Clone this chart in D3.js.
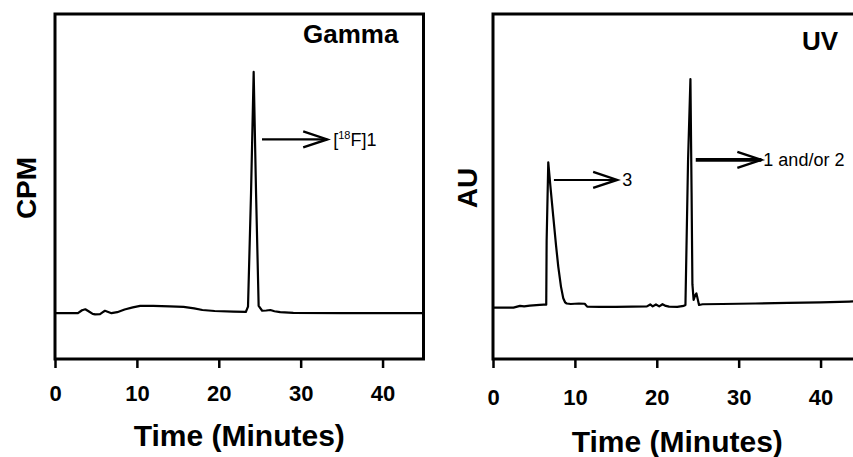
<!DOCTYPE html>
<html>
<head>
<meta charset="utf-8">
<script src="https://cdn.jsdelivr.net/npm/d3@7"></script>
<style>
  html, body { margin: 0; padding: 0; background: #fff; overflow: hidden; }
  svg { display: block; }
  text { font-family: "Liberation Sans", Arial, sans-serif; fill: #000; }
</style>
</head>
<body>
<svg id="chart" width="853" height="457"></svg>
<script>
// ---- data ----
const xTicks = [0, 10, 20, 30, 40];

const gammaTime = [0, 2.8, 3.3, 3.7, 4.1, 4.6, 4.9, 5.5, 5.8, 6.1, 6.5, 6.9, 7.6, 8.5, 9.5, 10.4, 12, 14, 15.7, 17, 18, 19.5, 21.8, 23.3, 23.57, 23.94, 24.26, 24.55, 24.87, 25.3, 25.8, 26.3, 26.8, 27.5, 29.1, 35, 45];
const gammaCPM  = [0, 0, 0.012, 0.016, 0.008, -0.003, -0.005, -0.004, 0.003, 0.01, 0.005, 0, 0.004, 0.015, 0.024, 0.03, 0.03, 0.028, 0.026, 0.02, 0.013, 0.009, 0.006, 0.005, 0.027, 0.5, 1.0, 0.5, 0.03, 0.01, 0.011, 0.013, 0.008, 0.004, 0.001, 0, 0];

const uvTime = [0, 2.5, 3.3, 3.8, 4.5, 5.3, 5.7, 6.2, 6.5, 6.55, 6.75, 7.0, 7.36, 7.7, 7.97, 8.3, 8.58, 8.8, 9.0, 9.5, 10.5, 11.2, 11.5, 13, 15, 17, 18.8, 19.2, 19.5, 19.9, 20.3, 20.7, 21.1, 21.5, 22.5, 23.3, 23.5, 23.82, 24.11, 24.25, 24.35, 24.5, 24.7, 24.84, 25.16, 25.6, 28, 32, 36, 40, 43.5, 45];
const uvAU   = [0.023, 0.023, 0.03, 0.028, 0.031, 0.033, 0.034, 0.035, 0.035, 0.3, 0.625, 0.53, 0.40, 0.28, 0.193, 0.11, 0.062, 0.045, 0.040, 0.038, 0.040, 0.039, 0.027, 0.026, 0.026, 0.027, 0.028, 0.036, 0.028, 0.036, 0.028, 0.037, 0.03, 0.027, 0.026, 0.03, 0.034, 0.635, 0.97, 0.5, 0.12, 0.055, 0.075, 0.082, 0.034, 0.037, 0.038, 0.040, 0.043, 0.045, 0.048, 0.05];

// annotations: [arrow start (min), arrow end (min), level, label]
const gammaNotes = [[25.28, 33.24, 0.72]];
const uvNotes = [[7.44, 15.16, 0.552, "3"], [24.76, 32.77, 0.635, "1 and/or 2"]];

// ---- drawing ----
const svg = d3.select("#chart");
const yDomain = [-0.19, 1.24];

function panel(opts) {
  const x = d3.scaleLinear().domain([0, 45]).range([opts.left, opts.left + 368.5]);
  const y = d3.scaleLinear().domain(yDomain).range([359, 14]);
  const g = svg.append("g");

  // frame
  g.append("rect")
    .attr("x", x(0)).attr("y", y(yDomain[1]))
    .attr("width", x(45) - x(0)).attr("height", y(yDomain[0]) - y(yDomain[1]))
    .attr("fill", "none").attr("stroke", "#000").attr("stroke-width", 3);

  // axis
  const ax = g.append("g").attr("transform", `translate(0,${y(yDomain[0])})`)
    .call(d3.axisBottom(x).tickValues(xTicks).tickSize(9).tickSizeOuter(0).tickPadding(opts.pad));
  ax.select(".domain").remove();
  ax.selectAll(".tick line").attr("stroke", "#000").attr("stroke-width", 2.5);
  ax.selectAll(".tick text")
    .style("font-family", '"Liberation Sans", Arial, sans-serif')
    .style("font-weight", "bold").style("font-size", "22px").attr("fill", "#000");

  // trace
  const pts = opts.t.map((d, i) => [d, opts.v[i]]);
  g.append("path").datum(pts)
    .attr("d", d3.line().x(d => x(d[0])).y(d => y(d[1])))
    .attr("fill", "none").attr("stroke", "#000").attr("stroke-width", 2.2)
    .attr("stroke-linejoin", "round");

  // x title
  g.append("text").attr("x", (x(0) + x(45)) / 2).attr("y", opts.titleY)
    .attr("text-anchor", "middle").style("font-weight", "bold").style("font-size", "30px")
    .text("Time (Minutes)");

  // y title
  g.append("text").attr("transform", `translate(${opts.yLabX},188) rotate(-90)`)
    .attr("text-anchor", "middle").attr("dy", "0.36em")
    .style("font-weight", "bold").style("font-size", "28px").text(opts.yLabel);

  // corner label
  g.append("text").attr("x", opts.cornerX).attr("y", opts.cornerY)
    .style("font-weight", "bold").style("font-size", "26px").text(opts.corner);

  return {x, y, g};
}

function arrow(p, a, width) {
  const x1 = p.x(a[0]), x2 = p.x(a[1]), yy = p.y(a[2]);
  p.g.append("line").attr("x1", x1).attr("x2", x2).attr("y1", yy).attr("y2", yy)
    .attr("stroke", "#000").attr("stroke-width", width);
  p.g.append("path")
    .attr("d", `M${x2 - 24},${yy - 8}L${x2},${yy}L${x2 - 24},${yy + 8}`)
    .attr("fill", "none").attr("stroke", "#000").attr("stroke-width", 2.4);
}

const left = panel({left: 55, t: gammaTime, v: gammaCPM, pad: 17, titleY: 446,
  yLabel: "CPM", yLabX: 26, corner: "Gamma", cornerX: 303, cornerY: 42.5});
const right = panel({left: 493, t: uvTime, v: uvAU, pad: 21, titleY: 452,
  yLabel: "AU", yLabX: 467, corner: "UV", cornerX: 802, cornerY: 50});

// gamma annotation
gammaNotes.forEach(a => {
  arrow(left, a, 2.2);
  const t = left.g.append("text").attr("x", left.x(a[1]) + 6).attr("y", left.y(a[2]) + 6.5)
    .style("font-size", "18px");
  t.append("tspan").text("[");
  t.append("tspan").attr("dy", -7).style("font-size", "11px").text("18");
  t.append("tspan").attr("dy", 7).text("F]1");
});

// UV annotations
uvNotes.forEach((a, i) => {
  arrow(right, a, i === 1 ? 3.8 : 2.2);
  right.g.append("text").attr("x", right.x(a[1]) + (i === 1 ? 2 : 5)).attr("y", right.y(a[2]) + 6.5)
    .style("font-size", "18px").text(a[3]);
});
</script>
</body>
</html>
